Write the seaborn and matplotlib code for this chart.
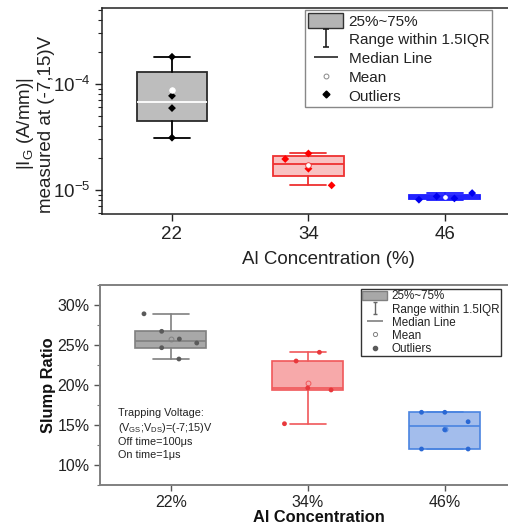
import numpy as np
import pandas as pd
import matplotlib
matplotlib.use("Agg")
import matplotlib.pyplot as plt
import matplotlib.patches as mpatches
from matplotlib.lines import Line2D
from matplotlib.path import Path
from matplotlib.ticker import LogLocator, PercentFormatter, MultipleLocator, NullFormatter
import seaborn as sns

# ---------------- data ----------------
categories = ["22", "34", "46"]
categories_pct = ["22%", "34%", "46%"]

# gate leakage |I_G| (A/mm) at (-7,15)V
ig_22 = [1.80e-4, 7.7e-5, 5.9e-5, 3.1e-5]
ig_34 = [1.95e-5, 2.20e-5, 1.58e-5, 1.10e-5]
ig_46 = [8.05e-6, 8.65e-6, 8.28e-6, 9.30e-6]

# slump ratio (%)
slump_22 = [28.9, 26.71, 24.66, 25.75, 23.25, 25.25]
slump_34 = [23.0, 24.09, 19.63, 19.38, 15.16]
slump_46 = [16.59, 16.59, 15.41, 14.41, 12.0, 12.0]

# horizontal spread of the points inside each box (layout only)
jit_top = [[0, 0, 0, 0], [-0.17, 0, 0, 0.17], [-0.19, -0.06, 0.07, 0.2]]
jit_bot = [[-0.195, -0.066, -0.066, 0.063, 0.06, 0.19],
           [-0.085, 0.085, 0, 0.17, -0.17],
           [-0.17, 0, 0.17, 0, -0.17, 0.17]]


def box_stats(vals):
    # Tukey hinges + whiskers within 1.5 IQR
    s = np.sort(np.asarray(vals, dtype=float))
    n = len(s)
    half = (n + 1) // 2
    q1 = np.median(s[:half])
    q3 = np.median(s[n - half:])
    iqr = q3 - q1
    hi = s[s <= q3 + 1.5 * iqr].max()
    lo = s[s >= q1 - 1.5 * iqr].min()
    return dict(med=np.median(s), q1=q1, q3=q3, whislo=lo, whishi=hi,
                mean=np.mean(s), fliers=[])


def points_frame(groups, jitter):
    rows = []
    for i, (vals, jit) in enumerate(zip(groups, jitter)):
        for v, j in zip(vals, jit):
            rows.append({"x": i + j, "y": v, "g": i})
    return pd.DataFrame(rows)


sns.set_style("ticks")
plt.rcParams["font.family"] = ["Liberation Sans", "DejaVu Sans"]
plt.rcParams["mathtext.fontset"] = "custom"
plt.rcParams["mathtext.rm"] = "Liberation Sans"
plt.rcParams["mathtext.it"] = "Liberation Sans:italic"
plt.rcParams["mathtext.bf"] = "Liberation Sans:bold"

W, H = 508, 527
fig = plt.figure(figsize=(W / 100, H / 100), dpi=100)

ibar = Path([(-0.35, 1), (0.35, 1), (0, 1), (0, -1), (-0.35, -1), (0.35, -1)],
            [Path.MOVETO, Path.LINETO, Path.MOVETO, Path.LINETO, Path.MOVETO, Path.LINETO])

# =====================================
# Top panel: gate leakage
# =====================================
ax1 = fig.add_axes([102 / W, 1 - 214 / H, (554 - 102) / W, 206 / H])
ax1.set_yscale("log")

top_groups = [ig_22, ig_34, ig_46]
top_edge = ["#2a2a2a", "#ee3030", "#1a1aff"]
top_fill = ["#bdbdbd", "#f9c2c2", "#7d7dff"]
top_whisk = ["#000000", "#ee3030", "#1a1aff"]
top_med = ["#ffffff", "#ee3030", "#1a1aff"]
top_pts = ["#000000", "#ff0000", "#0000ee"]

bp = ax1.bxp([box_stats(g) for g in top_groups], positions=[0, 1, 2], widths=0.52,
             capwidths=0.265, patch_artist=True, showmeans=True, showfliers=False)
for i in range(3):
    bp["boxes"][i].set(facecolor=top_fill[i], edgecolor=top_edge[i], linewidth=1.3)
    bp["medians"][i].set(color=top_med[i], linewidth=1.3)
    bp["means"][i].set(marker="o", markersize=4, markerfacecolor="white",
                       markeredgecolor="white" if i == 0 else top_edge[i], markeredgewidth=0.6)
    for ln in bp["whiskers"][2 * i:2 * i + 2] + bp["caps"][2 * i:2 * i + 2]:
        ln.set(color=top_whisk[i], linewidth=1.3)

df_top = points_frame(top_groups, jit_top)
sns.scatterplot(data=df_top, x="x", y="y", hue="g", palette=top_pts, marker="D",
                s=16, linewidth=0, legend=False, ax=ax1, zorder=4)
for i in range(3):
    bp["means"][i].set_zorder(5)

ax1.set_xlim(-0.513, 2.8)
ax1.set_ylim(5.9e-6, 5.2e-4)
ax1.set_xticks([0, 1, 2])
ax1.set_xticklabels(categories)
ax1.yaxis.set_major_locator(LogLocator(base=10, numticks=10))
ax1.yaxis.set_minor_locator(LogLocator(base=10, subs=np.arange(2, 10), numticks=10))
ax1.yaxis.set_minor_formatter(NullFormatter())
ax1.tick_params(axis="both", which="major", direction="out", length=5, width=1,
                labelsize=13.5, colors="#222222")
ax1.tick_params(axis="y", which="minor", direction="out", length=3, width=0.8, colors="#222222")
ax1.set_xlabel("Al Concentration (%)", fontsize=13.5, labelpad=6, color="#222222")
ax1.set_ylabel("$\\mathregular{|I_G}$ (A/mm)|\nmeasured at (-7,15)V", fontsize=13.5,
               linespacing=1.2, color="#222222")
ax1.yaxis.set_label_coords(-0.103, 0.437)
for sp in ["left", "bottom", "top", "right"]:
    ax1.spines[sp].set_color("#222222")
    ax1.spines[sp].set_linewidth(1.1)

h_top = [
    mpatches.Patch(facecolor="#b4b4b4", edgecolor="#333333", linewidth=1.0),
    Line2D([], [], ls="none", marker=ibar, markersize=13, markerfacecolor="none",
           markeredgecolor="#222222", markeredgewidth=1.2),
    Line2D([], [], ls="none", marker="_", markersize=17, markeredgecolor="#444444",
           markeredgewidth=1.4),
    Line2D([], [], ls="none", marker="o", markersize=3.5, markerfacecolor="white",
           markeredgecolor="#888888", markeredgewidth=0.7),
    Line2D([], [], ls="none", marker="D", markersize=3.5, markerfacecolor="black",
           markeredgecolor="black"),
]
leg1 = ax1.legend(h_top, ["25%~75%", "Range within 1.5IQR", "Median Line", "Mean", "Outliers"],
                  loc="upper left", bbox_to_anchor=(305 / W, 1 - 10 / H),
                  bbox_transform=fig.transFigure, borderaxespad=0, fontsize=11,
                  handlelength=2.3, handleheight=1.1, handletextpad=0.35,
                  labelspacing=0.21, borderpad=0.2, fancybox=False, framealpha=1)
leg1.get_frame().set_edgecolor("#888888")
leg1.get_frame().set_linewidth(1.0)
for t in leg1.get_texts():
    t.set_color("#222222")

# =====================================
# Bottom panel: slump ratio
# =====================================
ax2 = fig.add_axes([100 / W, 1 - 485 / H, (538 - 100) / W, 200 / H])

bot_groups = [slump_22, slump_34, slump_46]
bot_edge = ["#808080", "#f0585a", "#4a84e0"]
bot_fill = ["#a8a8a8", "#f7a9aa", "#a3bdec"]
bot_pts = ["#5a5a5a", "#e8383c", "#2a68d4"]

bp2 = ax2.bxp([box_stats(g) for g in bot_groups], positions=[0, 1, 2], widths=0.52,
              capwidths=0.26, patch_artist=True, showmeans=True, showfliers=False)
for i in range(3):
    bp2["boxes"][i].set(facecolor=bot_fill[i], edgecolor=bot_edge[i], linewidth=1.2)
    bp2["medians"][i].set(color=bot_edge[i], linewidth=1.2)
    bp2["means"][i].set(marker="o", markersize=3.5, markerfacecolor="none",
                        markeredgecolor=bot_edge[i], markeredgewidth=0.7)
    for ln in bp2["whiskers"][2 * i:2 * i + 2] + bp2["caps"][2 * i:2 * i + 2]:
        ln.set(color=bot_edge[i], linewidth=1.2)

df_bot = points_frame(bot_groups, jit_bot)
sns.scatterplot(data=df_bot, x="x", y="y", hue="g", palette=bot_pts, marker="o",
                s=12, linewidth=0, legend=False, ax=ax2, zorder=4)

ax2.set_xlim(-0.516, 2.68)
ax2.set_ylim(7.5, 32.5)
ax2.set_xticks([0, 1, 2])
ax2.set_xticklabels(categories_pct)
ax2.yaxis.set_major_locator(MultipleLocator(5))
ax2.yaxis.set_minor_locator(MultipleLocator(2.5))
ax2.yaxis.set_major_formatter(PercentFormatter(decimals=0))
ax2.tick_params(axis="both", which="major", direction="out", length=4, width=1,
                labelsize=11.5, colors="#555555", labelcolor="#222222")
ax2.tick_params(axis="y", which="minor", direction="out", length=2.5, width=0.8, colors="#777777")
ax2.set_xlabel("Al Concentration", fontsize=11.8, fontweight="bold", color="#111111")
ax2.xaxis.set_label_coords(0.5, -0.125)
ax2.set_ylabel("Slump Ratio", fontsize=11.8, fontweight="bold", color="#111111")
ax2.yaxis.set_label_coords(-0.1, 0.5)
for sp in ["left", "bottom", "top", "right"]:
    ax2.spines[sp].set_color("#808080")
    ax2.spines[sp].set_linewidth(1.4)

ax2.text(0.040, 0.385,
         "Trapping Voltage:\n($\\mathregular{V_{GS}}$;$\\mathregular{V_{DS}}$)=(-7;15)V\n"
         "Off time=100μs\nOn time=1μs",
         transform=ax2.transAxes, fontsize=7.8, va="top", ha="left",
         linespacing=1.3, color="#222222")

h_bot = [
    mpatches.Patch(facecolor="#a8a8a8", edgecolor="#808080", linewidth=1.0),
    Line2D([], [], ls="none", marker=ibar, markersize=9, markerfacecolor="none",
           markeredgecolor="#666666", markeredgewidth=1.0),
    Line2D([], [], ls="none", marker="_", markersize=12, markeredgecolor="#808080",
           markeredgewidth=1.2),
    Line2D([], [], ls="none", marker="o", markersize=3, markerfacecolor="white",
           markeredgecolor="#808080", markeredgewidth=0.7),
    Line2D([], [], ls="none", marker="o", markersize=3, markerfacecolor="#5a5a5a",
           markeredgecolor="#5a5a5a"),
]
leg2 = ax2.legend(h_bot, ["25%~75%", "Range within 1.5IQR", "Median Line", "Mean", "Outliers"],
                  loc="upper left", bbox_to_anchor=(360.7 / W, 1 - 289 / H),
                  bbox_transform=fig.transFigure, borderaxespad=0, fontsize=8.4,
                  handlelength=2.15, handleheight=0.9, handletextpad=0.4,
                  labelspacing=0.1, borderpad=0.12, fancybox=False, framealpha=1)
leg2.get_frame().set_edgecolor("#333333")
leg2.get_frame().set_linewidth(1.0)
for t in leg2.get_texts():
    t.set_color("#222222")

fig.savefig("out.png", dpi=100)
